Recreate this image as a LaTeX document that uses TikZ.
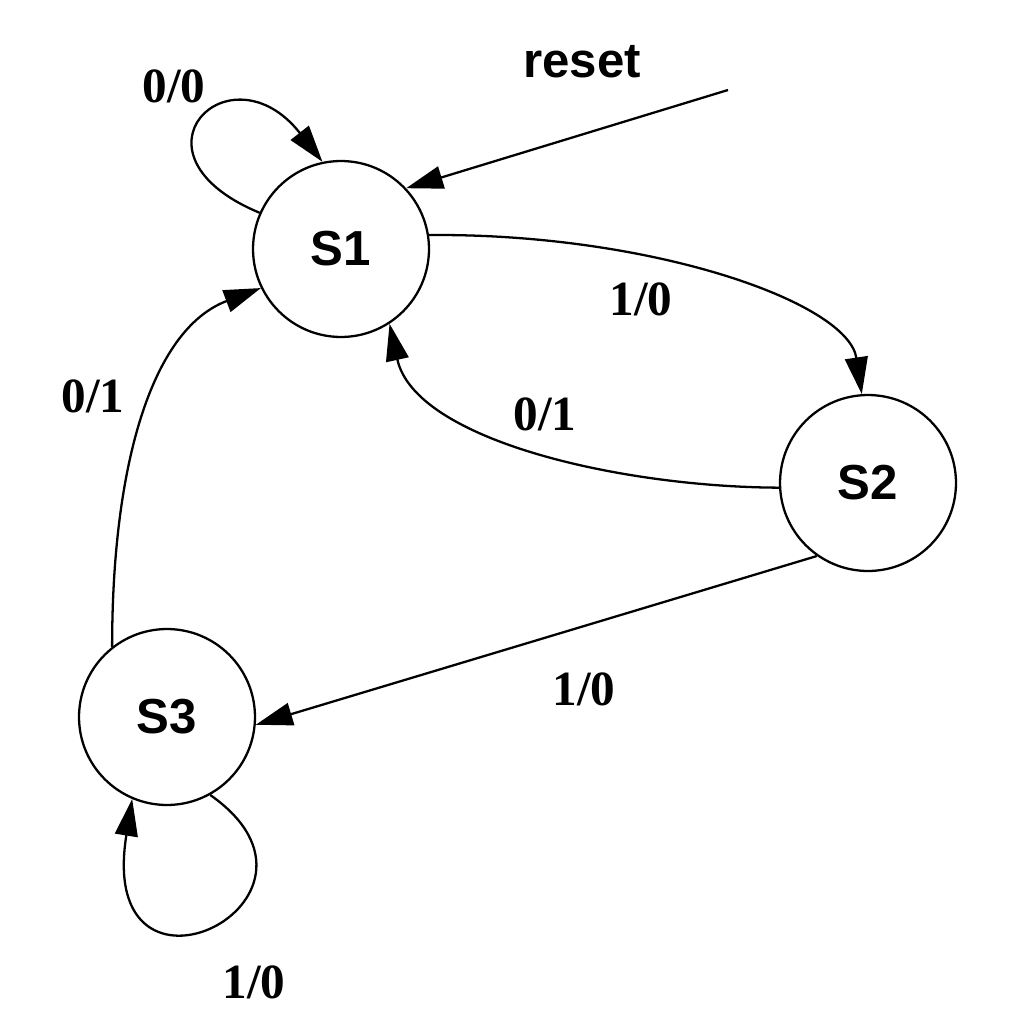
\documentclass[tikz,border=0pt]{standalone}
\usepackage{fontspec}
\setmainfont{Liberation Serif}
\setsansfont{Liberation Sans}
\usetikzlibrary{arrows.meta}
\begin{document}
\begin{tikzpicture}[x=0.02cm,y=-0.02cm,
  state/.style={circle,draw,line width=1.3pt,minimum size=3.52cm,inner sep=0pt,
    font=\fontsize{28}{30}\selectfont\sffamily\bfseries},
  translabel/.style={anchor=base,font=\fontsize{28}{30}\selectfont\rmfamily\bfseries},
  trans/.style={line width=1.3pt,-{Triangle[length=21pt,width=13pt]}}]
\useasboundingbox[fill=white] (0,0) rectangle (1024,1024);

% states
\node[state] (S1) at (341,249) {S1};
\node[state] (S2) at (868,483) {S2};
\node[state] (S3) at (167,717) {S3};

% reset input
\coordinate (rst) at (728,90);
\node[anchor=base,font=\fontsize{28}{30}\selectfont\sffamily\bfseries] (rstlabel) at (582,78) {reset};
\draw[trans] (rst) -- (S1.43);

% transitions
\draw[trans] (S1.156) .. controls (118,154) and (230,44) .. (S1.102);
\draw[trans] (S1.9) .. controls (650,233) and (848,302) .. (S2.94);
\draw[trans] (S2.183) .. controls (620,487) and (415,440) .. (S1.-57);
\draw[trans] (S2.235.5) -- (S3.-5);
\draw[trans] (S3.128) .. controls (112,470) and (150,330) .. (S1.206);
\draw[trans] (S3.-61) .. controls (360,900) and (95,1030) .. (S3.247);

% transition labels
\node[translabel] (l11) at (174,103) {0/0};
\node[translabel] (l12) at (641,315) {1/0};
\node[translabel] (l21) at (545,430) {0/1};
\node[translabel] (l31) at (93,412) {0/1};
\node[translabel] (l23) at (584,705) {1/0};
\node[translabel] (l33) at (254,998) {1/0};
\end{tikzpicture}
\end{document}
